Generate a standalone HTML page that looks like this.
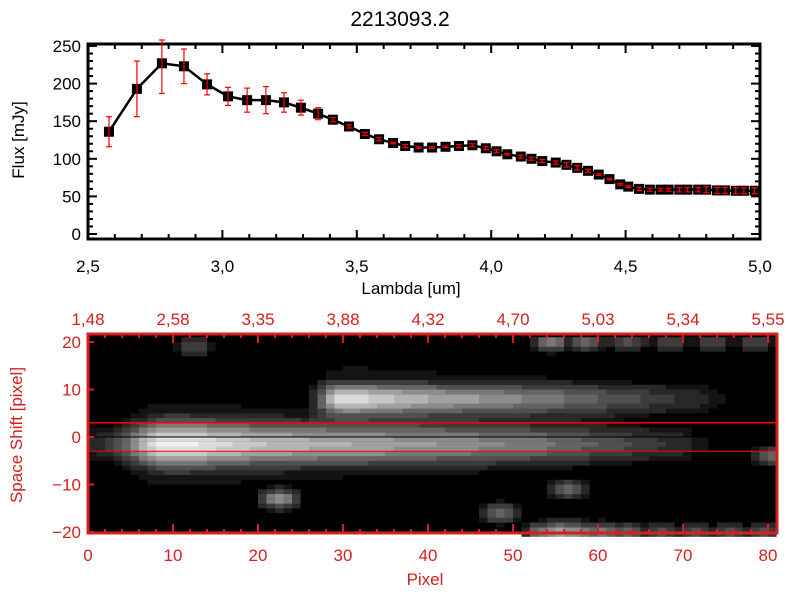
<!DOCTYPE html>
<html><head><meta charset="utf-8"><style>
html,body{margin:0;padding:0;background:#fff;}
svg{display:block;font-family:"Liberation Sans",sans-serif;}
</style></head><body>
<svg id="c" width="800" height="600" xmlns="http://www.w3.org/2000/svg">
<text x="400" y="26" text-anchor="middle" font-size="21">2213093.2</text>
<g id="top"></g>
<g id="bot"></g>
<text x="411" y="294" text-anchor="middle" font-size="17">Lambda [um]</text>
<text transform="translate(24,140) rotate(-90)" text-anchor="middle" font-size="17">Flux [mJy]</text>
<text x="425" y="585" text-anchor="middle" font-size="17" fill="#d42020">Pixel</text>
<text transform="translate(22,435) rotate(-90)" text-anchor="middle" font-size="17" fill="#d42020">Space Shift [pixel]</text>
</svg>
<script>
const lambdas=[2.578,2.682,2.775,2.857,2.943,3.021,3.092,3.162,3.229,3.292,3.356,3.411,3.471,3.530,3.583,3.635,
3.68,3.73,3.78,3.83,3.88,3.93,3.98,4.02,4.06,4.11,4.15,4.19,4.24,4.28,4.32,4.36,4.40,4.44,4.48,4.51,4.55,4.59,4.63,4.66,4.70,4.73,4.77,4.80,4.84,4.87,4.91,4.94,4.98];
const fluxes=[136,193,227,223,199,183,178,178,175,168,160,152,143,133,126,121,
117,115,115,116,117,118,114,110,106,103,100,97,95,92,88,84,79,73,66,63,60,59,59,59,59,59,59,59,58,58,57.5,57.5,57.5];
const errs=[20,37,40,23,14,12,16,18,13,10,8,3,2,2,2,1,
2,1,1,1,2,2,2,2,1,2,2,2,2,3,3,2,1,1,1,1,2,2,2,2,3,3,3,4,4,4,4,4,4];
const xTicks=["2,5","3,0","3,5","4,0","4,5","5,0"];
const yTicks=["0","50","100","150","200","250"];
const pixTicks=["0","10","20","30","40","50","60","70","80"];
const lamTicks=["1,48","2,58","3,35","3,88","4,32","4,70","5,03","5,34","5,55"];
const shiftTicks=["-20","-10","0","10","20"];
const mainBright=[0.15,0.2,0.25,0.35,0.45,0.6,0.75,0.9,0.97,1.0,1.0,1.0,0.98,0.95,0.92,0.9,0.88,0.86,0.84,0.82,0.8,0.79,0.78,0.77,0.76,0.75,0.74,0.73,0.72,0.72,0.71,0.7,0.7,0.69,0.68,0.67,0.66,0.66,0.65,0.64,0.63,0.62,0.61,0.6,0.59,0.58,0.57,0.56,0.55,0.54,0.53,0.52,0.5,0.49,0.47,0.45,0.44,0.42,0.4,0.38,0.36,0.34,0.32,0.3,0.28,0.26,0.24,0.22,0.2,0.18,0.15,0.12,0.1,0.08,0.05,0,0,0,0,0,0];
const upperBright=[0,0,0,0,0,0,0,0,0,0,0,0,0,0,0,0,0,0,0,0,0,0,0,0,0,0,0.2,0.45,0.75,0.9,0.95,0.95,0.92,0.88,0.85,0.82,0.8,0.78,0.76,0.74,0.72,0.7,0.68,0.66,0.65,0.64,0.62,0.6,0.58,0.57,0.56,0.55,0.53,0.52,0.5,0.48,0.46,0.44,0.42,0.4,0.38,0.36,0.34,0.32,0.3,0.28,0.26,0.24,0.22,0.2,0.18,0.16,0.14,0.12,0.1,0.09,0.08,0.06,0.05,0.03,0];
const blobX=[22,12,56,48,80,53,55,57,60,63,67,71,75,79,54,58,63,68,73,78];
const blobY=[-13,19,-11,-16,-4,-20,-20,-20,-20,-20,-20,-20,-20,-20,20,20,20,20,20,20];
const blobB=[0.6,0.3,0.4,0.45,0.4,0.5,0.75,0.6,0.5,0.4,0.35,0.35,0.35,0.35,0.5,0.4,0.35,0.3,0.3,0.3];

const NS="http://www.w3.org/2000/svg";
function mk(p,t,a){const e=document.createElementNS(NS,t);for(const k in a)e.setAttribute(k,a[k]);p.appendChild(e);return e;}
const T=document.getElementById('top');
const X0=88,X1=760,Y0=239,Y1=44;
const sx=v=>X0+(v-2.5)/2.5*(X1-X0);
const sy=v=>234-v*0.752;
for(let i=0;i<=25;i++){const v=2.5+i*0.1,x=sx(v),L=(i%5==0)?9:5;
 let t=mk(T,'line',{x1:x,x2:x,y1:Y0,y2:Y0-L,stroke:'#000','stroke-width':2});
 
 t=mk(T,'line',{x1:x,x2:x,y1:Y1,y2:Y1+L,stroke:'#000','stroke-width':2});
 }
xTicks.forEach((s,i)=>{const e=mk(T,'text',{x:sx(2.5+i*0.5),y:272,'text-anchor':'middle','font-size':17});e.textContent=s;
 });
for(let v=0;v<=250;v+=10){const y=sy(v),L=(v%50==0)?9:5;
 let t=mk(T,'line',{x1:X0,x2:X0+L,y1:y,y2:y,stroke:'#000','stroke-width':2});
 
 t=mk(T,'line',{x1:X1,x2:X1-L,y1:y,y2:y,stroke:'#000','stroke-width':2});
 }
yTicks.forEach((s,i)=>{const e=mk(T,'text',{x:81,y:sy(i*50)+6,'text-anchor':'end','font-size':17});e.textContent=s;
 });
let fr=mk(T,'rect',{x:X0,y:Y1,width:X1-X0,height:Y0-Y1,fill:'none',stroke:'#000','stroke-width':3});

let pl=mk(T,'polyline',{points:lambdas.map((l,i)=>sx(l)+','+sy(fluxes[i])).join(' '),fill:'none',stroke:'#000','stroke-width':2.5});

lambdas.forEach((l,i)=>{const x=sx(l),y=sy(fluxes[i]);
 const m=mk(T,'rect',{x:x-5,y:y-5,width:10,height:10,fill:'#000'});
 
 const g=mk(T,'g',{stroke:'#ff0000','stroke-width':1.2});
 
 const ya=Math.max(sy(fluxes[i]+errs[i]),Y1-4),yb=sy(fluxes[i]-errs[i]);
 mk(g,'line',{x1:x,x2:x,y1:ya,y2:yb});mk(g,'line',{x1:x-3,x2:x+3,y1:ya,y2:ya});mk(g,'line',{x1:x-3,x2:x+3,y1:yb,y2:yb});});
const B=document.getElementById('bot');
const BX0=88,BX1=777,BY0=533,BY1=334,RED='#d42020';
const px=p=>88+p*8.5;
const py=s=>437-s*4.75;
mk(B,'rect',{x:BX0,y:BY1,width:BX1-BX0,height:BY0-BY1,fill:'#000'});
const img=mk(B,'g',{});

for(let c=0;c<81;c++){for(let r=-21;r<=20;r++){
 const s=r+0.5;
 const m=mainBright[c];const u=upperBright[c];
 const sig=2.2+1.2*m;
 let v=m*Math.exp(-Math.pow((s+1.5)/sig,2)/2)+u*Math.exp(-Math.pow((s-8)/2.2,2)/2);
 const hw=2+7*m;
 let halo=0;
 if(m>0.12&&Math.abs(s+1.5)<hw)halo=0.12;
 if(u>0.12&&Math.abs(s-8)<2+5*u)halo=0.12;
 v=Math.max(v,halo);
 for(let k=0;k<blobX.length;k++){const d=Math.hypot((c-blobX[k])/2.2,(s-blobY[k])/2);v=Math.max(v,blobB[k]*Math.exp(-d*d));}
 if(v<0.09)continue;
 const q=Math.round(Math.min(v,1)*12)/12;const g=Math.round(q*240);
 mk(img,'rect',{x:px(c),y:py(s+0.5),width:8.6,height:4.85,fill:`rgb(${g},${g},${g})`});}}
let ln=mk(B,'line',{x1:BX0,x2:BX1,y1:py(3),y2:py(3),stroke:'#ff0000','stroke-width':1.5});

ln=mk(B,'line',{x1:BX0,x2:BX1,y1:py(-3),y2:py(-3),stroke:'#ff0000','stroke-width':1});

ln=mk(B,'line',{x1:BX0,x2:BX1,y1:py(0),y2:py(0),stroke:'#000','stroke-width':1});

for(let p=0;p<=80;p+=2){const x=px(p),L=(p%10==0)?9:4;
 let t=mk(B,'line',{x1:x,x2:x,y1:BY0,y2:BY0-L,stroke:RED,'stroke-width':2});
 
 t=mk(B,'line',{x1:x,x2:x,y1:BY1,y2:BY1+L,stroke:RED,'stroke-width':2});
 }
pixTicks.forEach((s,i)=>{const e=mk(B,'text',{x:px(i*10),y:561,'text-anchor':'middle','font-size':17,fill:RED});e.textContent=s;
 });
lamTicks.forEach((s,i)=>{const e=mk(B,'text',{x:px(i*10),y:325,'text-anchor':'middle','font-size':17,fill:RED});e.textContent=s;
 });
for(let s=-20;s<=20;s+=10){const y=py(s);
 let t=mk(B,'line',{x1:BX0,x2:BX0+6,y1:y,y2:y,stroke:RED,'stroke-width':2});
 }
shiftTicks.forEach((s,i)=>{const e=mk(B,'text',{x:81,y:py(-20+i*10)+6,'text-anchor':'end','font-size':17,fill:RED});e.textContent=s.replace('-','\u2212');
 });
fr=mk(B,'rect',{x:BX0,y:BY1,width:BX1-BX0,height:BY0-BY1,fill:'none',stroke:RED,'stroke-width':3});

</script>
</body></html>
